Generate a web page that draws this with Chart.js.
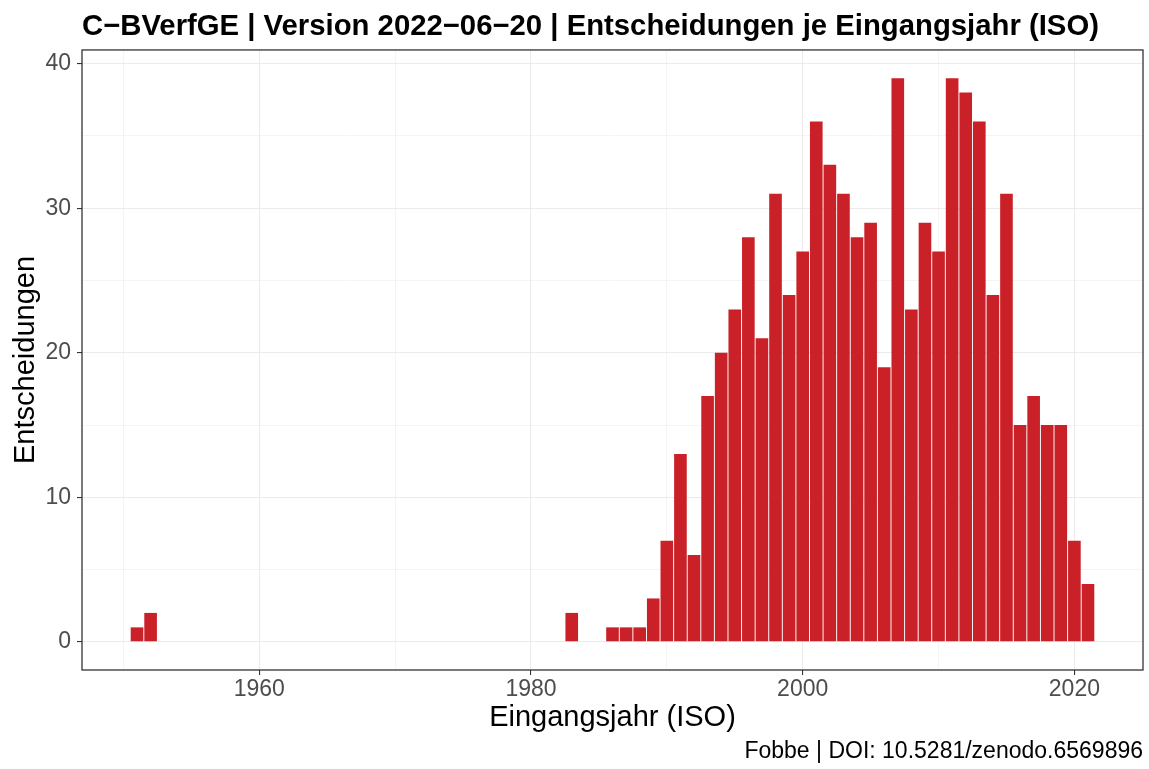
<!DOCTYPE html>
<html>
<head>
<meta charset="utf-8">
<script src="https://cdn.jsdelivr.net/npm/chart.js@4"></script>
<style>
html,body{margin:0;padding:0;background:#fff;}
#wrap{width:1149px;height:769px;}
</style>
</head>
<body>
<div id="wrap"><canvas id="c" width="1149" height="769"></canvas></div>
<script>
const years = [1951,1952,1983,1986,1987,1988,1989,1990,1991,1992,1993,1994,1995,1996,1997,1998,1999,2000,2001,2002,2003,2004,2005,2006,2007,2008,2009,2010,2011,2012,2013,2014,2015,2016,2017,2018,2019,2020,2021];
const counts = [1,2,2,1,1,1,3,7,13,6,17,20,23,28,21,31,24,27,36,33,31,28,29,19,39,23,29,27,39,38,36,24,31,15,17,15,15,7,4];
const xTicks = [1950,1960,1970,1980,1990,2000,2010,2020];
const xLabels = [1960,1980,2000,2020];
const yTicks = [0,5,10,15,20,25,30,35,40];
const yLabels = [0,10,20,30,40];
const titleText = 'C\u2212BVerfGE | Version 2022\u221206\u221220 | Entscheidungen je Eingangsjahr (ISO)';
const captionText = 'Fobbe | DOI: 10.5281/zenodo.6569896';
const xTitle = 'Eingangsjahr (ISO)';
const yTitle = 'Entscheidungen';

const FONT = "'Liberation Sans', Arial, Helvetica, sans-serif";
const GRID = '#ebebeb';

const borderPlugin = {
  id: 'panelBorder',
  afterDraw(chart) {
    const a = chart.chartArea, ctx = chart.ctx;
    ctx.save();
    ctx.strokeStyle = '#333333';
    ctx.lineWidth = 1.3;
    ctx.strokeRect(a.left, a.top, a.right - a.left, a.bottom - a.top);
    ctx.restore();
  }
};

new Chart(document.getElementById('c'), {
  type: 'bar',
  data: {
    datasets: [{
      data: years.map((y, i) => ({x: y, y: counts[i]})),
      backgroundColor: '#ca2129',
      borderWidth: 0,
      barPercentage: 0.93,
      categoryPercentage: 1.0
    }]
  },
  options: {
    responsive: false,
    animation: false,
    layout: {padding: {left: 0, right: 6, top: 0, bottom: 0}},
    plugins: {
      legend: {display: false},
      tooltip: {enabled: false},
      title: {
        display: true, text: titleText, align: 'start', fullSize: false,
        color: '#000', font: {family: FONT, size: 29.3, weight: 'bold', lineHeight: 1.2},
        padding: {top: 9, bottom: 5.8}
      },
      subtitle: {
        display: true, text: captionText, position: 'bottom', align: 'end', fullSize: false,
        color: '#000', font: {family: FONT, size: 23, weight: 'normal', lineHeight: 1.2},
        padding: {top: 0, bottom: 3.2}
      }
    },
    scales: {
      x: {
        type: 'linear', min: 1946.95, max: 2025.05, offset: false,
        afterBuildTicks(s) { s.ticks = xTicks.map(v => ({value: v})); },
        afterFit(s) { s.height = 68.2; },
        ticks: {
          autoSkip: false, maxRotation: 0, color: '#4d4d4d', padding: 1.2,
          font: {family: FONT, size: 23},
          callback: (v) => xLabels.includes(v) ? String(v) : ''
        },
        grid: {
          offset: false, color: GRID,
          lineWidth: (c) => (c.tick && xLabels.includes(c.tick.value)) ? 1.1 : 0.55,
          tickColor: (c) => (c.tick && xLabels.includes(c.tick.value)) ? '#333333' : 'rgba(0,0,0,0)',
          tickLength: 5, tickWidth: 1.1
        },
        border: {display: false},
        title: {display: true, text: xTitle, color: '#000', font: {family: FONT, size: 29, lineHeight: 1.2}, padding: {top: 0, bottom: 2.8}}
      },
      y: {
        type: 'linear', min: -1.95, max: 40.95,
        afterBuildTicks(s) { s.ticks = yTicks.map(v => ({value: v})); },
        afterFit(s) { s.width = 82; },
        ticks: {
          autoSkip: false, color: '#4d4d4d', padding: 6,
          font: {family: FONT, size: 23},
          callback: (v) => yLabels.includes(v) ? String(v) : ''
        },
        grid: {
          color: GRID,
          lineWidth: (c) => (c.tick && yLabels.includes(c.tick.value)) ? 1.1 : 0.55,
          tickColor: (c) => (c.tick && yLabels.includes(c.tick.value)) ? '#333333' : 'rgba(0,0,0,0)',
          tickLength: 5, tickWidth: 1.1
        },
        border: {display: false},
        title: {display: true, text: yTitle, color: '#000', font: {family: FONT, size: 29, lineHeight: 1.2}, padding: {top: 9, bottom: 0}}
      }
    }
  },
  plugins: [borderPlugin]
});
</script>
</body>
</html>
